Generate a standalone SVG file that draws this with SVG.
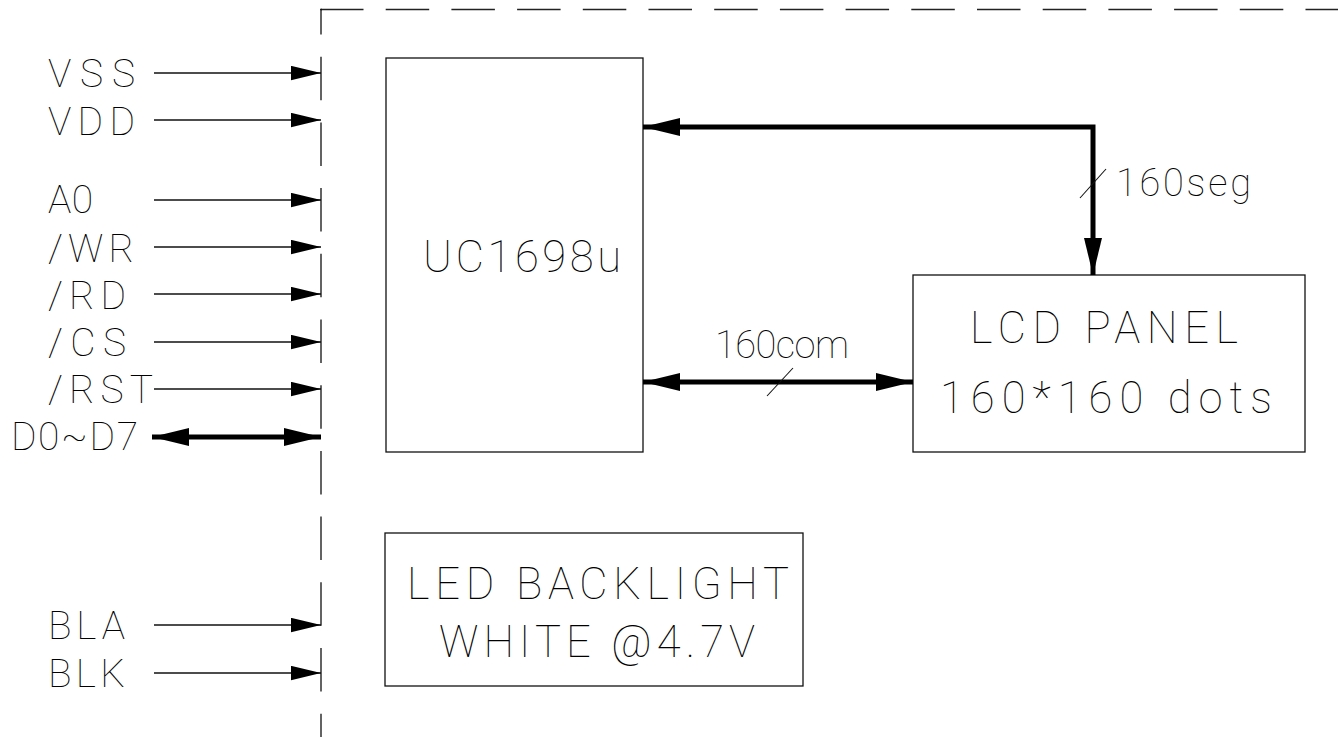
<svg xmlns="http://www.w3.org/2000/svg" width="1338" height="737" viewBox="0 0 1338 737">
<style>
  .box { fill: none; stroke: #111; stroke-width: 1.3; }
  .dash { fill: none; stroke: #222; stroke-width: 1.4; stroke-dasharray: 43.5 22.2; }
  .thin { fill: none; stroke: #111; stroke-width: 1.3; }
  .bus { fill: none; stroke: #000; stroke-width: 5; stroke-linejoin: miter; }
  .tick { fill: none; stroke: #111; stroke-width: 1.1; }
  text { font-family: Roboto, "Noto Sans", "Liberation Sans", sans-serif; font-weight: 100; fill: #000; }
  .pin { font-size: 39px; }
  .big { font-size: 43.5px; }
  .bus-lbl { font-size: 38px; }
</style>
<defs>
  <marker id="arrThin" markerUnits="userSpaceOnUse" markerWidth="32" markerHeight="16" refX="30" refY="7.2" orient="auto">
    <path d="M0,0 L30,7.2 L0,14.4 z" fill="#000"/>
  </marker>
  <marker id="arrBus" markerUnits="userSpaceOnUse" markerWidth="40" markerHeight="20" refX="37" refY="9" orient="auto-start-reverse">
    <path d="M0,0 L37,9 L0,18 z" fill="#000"/>
  </marker>
</defs>
<rect width="1338" height="737" fill="#fff"/>

<g id="boundary">
  <path class="dash" d="M320,9.5 H1338"/>
  <path class="dash" d="M321,9.5 V737" stroke-dashoffset="18.5"/>
  <path class="thin" d="M321,9.5 H322"/>
</g>

<g id="uc1698u">
  <rect class="box" x="386" y="58" width="257" height="394"/>
  <text class="big" x="423" y="272" textLength="198" lengthAdjust="spacing">UC1698u</text>
</g>

<g id="lcd-panel">
  <rect class="box" x="913" y="275" width="392" height="177"/>
  <text class="big" x="970" y="343" textLength="268" lengthAdjust="spacing">LCD PANEL</text>
  <text class="big" x="940" y="413" textLength="332" lengthAdjust="spacing">160*160 dots</text>
</g>

<g id="led-backlight">
  <rect class="box" x="385" y="533" width="418" height="153"/>
  <text class="big" x="407" y="599" textLength="382" lengthAdjust="spacing">LED BACKLIGHT</text>
  <text class="big" x="439" y="657" textLength="316" lengthAdjust="spacing">WHITE @4.7V</text>
</g>

<g id="pins">
  <text class="pin" x="48" y="87" textLength="87" lengthAdjust="spacing">VSS</text>
  <text class="pin" x="48" y="135" textLength="87" lengthAdjust="spacing">VDD</text>
  <text class="pin" x="48" y="213" textLength="45" lengthAdjust="spacing">A0</text>
  <text class="pin" x="48" y="262" textLength="86" lengthAdjust="spacing">/WR</text>
  <text class="pin" x="48" y="309" textLength="78" lengthAdjust="spacing">/RD</text>
  <text class="pin" x="48" y="356" textLength="78" lengthAdjust="spacing">/CS</text>
  <text class="pin" x="48" y="403" textLength="105" lengthAdjust="spacing">/RST</text>
  <text class="pin" x="11" y="450" textLength="127" lengthAdjust="spacing">D0~D7</text>
  <text class="pin" x="48" y="639" textLength="77" lengthAdjust="spacing">BLA</text>
  <text class="pin" x="48" y="687" textLength="77" lengthAdjust="spacing">BLK</text>
</g>

<g id="connectors">
  <path class="thin" d="M154,73 H321" marker-end="url(#arrThin)"/>
  <path class="thin" d="M154,120 H321" marker-end="url(#arrThin)"/>
  <path class="thin" d="M154,200 H321" marker-end="url(#arrThin)"/>
  <path class="thin" d="M154,247 H321" marker-end="url(#arrThin)"/>
  <path class="thin" d="M154,294 H321" marker-end="url(#arrThin)"/>
  <path class="thin" d="M154,342 H321" marker-end="url(#arrThin)"/>
  <path class="thin" d="M154,389 H321" marker-end="url(#arrThin)"/>
  <path class="thin" d="M154,625 H321" marker-end="url(#arrThin)"/>
  <path class="thin" d="M154,673 H321" marker-end="url(#arrThin)"/>
  <path class="bus" d="M152,437 H321" marker-start="url(#arrBus)" marker-end="url(#arrBus)"/>
  <path class="bus" d="M643,127 H1093 V275" marker-start="url(#arrBus)" marker-end="url(#arrBus)"/>
  <path class="bus" d="M643,382 H913" marker-start="url(#arrBus)" marker-end="url(#arrBus)"/>
  <path class="tick" d="M1080,198 L1106,169"/>
  <path class="tick" d="M767,396 L793,368"/>
  <text class="bus-lbl" x="1116" y="196" textLength="135" lengthAdjust="spacing">160seg</text>
  <text class="bus-lbl" x="715" y="358" textLength="134" lengthAdjust="spacing">160com</text>
</g>
</svg>
